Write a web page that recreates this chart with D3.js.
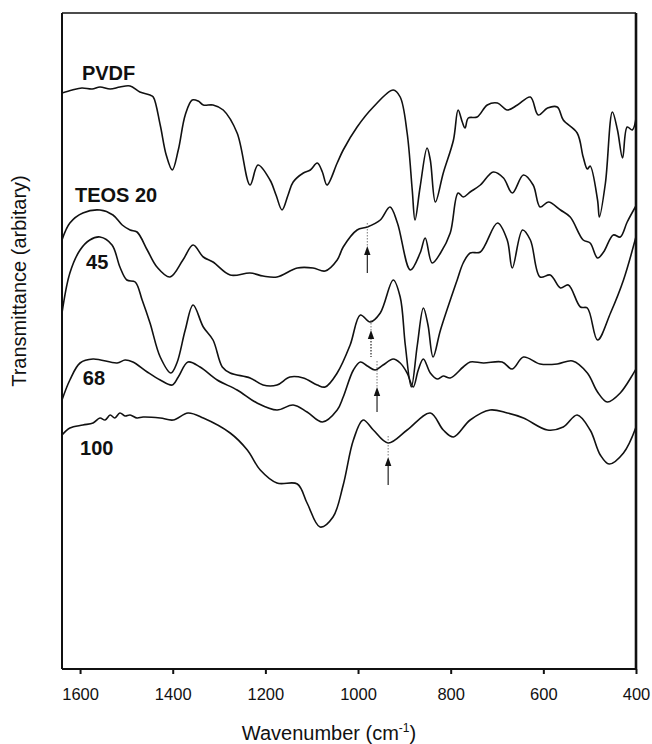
<!DOCTYPE html>
<html>
<head>
<meta charset="utf-8">
<script src="https://cdn.jsdelivr.net/npm/d3@7"></script>
<style>
  html, body { margin: 0; padding: 0; background: #fff; }
  svg { display: block; font-family: "Liberation Sans", Arial, sans-serif; }
</style>
</head>
<body>
<svg id="chart" width="652" height="744"></svg>
<script>
// ---------- DATA (wavenumber cm^-1, transmittance in arbitrary units) ----------
const xTicks = [1600, 1400, 1200, 1000, 800, 600, 400];

const pvdf = [
  [1639,57.6],[1617,57.9],[1596,58.1],[1574,58.0],[1557,58.2],[1535,58.0],[1514,58.2],[1492,58.3],
  [1471,57.7],[1449,57.4],[1442,57.2],[1427,54.4],[1414,51.4],[1401,49.9],[1388,51.9],[1373,55.4],
  [1358,56.9],[1345,56.8],[1334,56.4],[1313,56.4],[1291,55.9],[1261,53.6],[1233,48.4],[1216,50.4],
  [1190,48.9],[1177,47.4],[1164,45.9],[1151,47.4],[1140,48.7],[1118,49.6],[1103,49.9],[1088,50.6],
  [1077,49.7],[1067,48.4],[1045,50.6],[1032,51.9],[1002,54.2],[967,56.2],[924,57.9],[909,57.2],
  [894,53.6],[883,47.9],[877,44.9],[866,48.2],[851,52.1],[844,50.9],[833,46.7],[816,49.6],
  [794,52.9],[784,55.9],[775,54.7],[769,54.1],[762,55.1],[743,55.2],[721,56.4],[699,56.6],
  [678,55.9],[656,56.4],[628,57.2],[611,55.4],[591,56.1],[570,56.2],[557,54.9],[527,53.6],
  [514,51.2],[505,50.0],[499,50.3],[483,46.9],[479,45.2],[466,48.6],[451,55.7],[440,53.9],
  [429,51.1],[419,54.2],[408,53.9],[399,55.4]
];

const teos20 = [
  [1639,42.9],[1622,44.6],[1594,45.6],[1557,45.9],[1529,45.4],[1509,44.4],[1492,43.9],[1477,43.7],
  [1455,41.9],[1434,40.2],[1406,39.2],[1378,40.9],[1356,42.4],[1334,41.2],[1313,40.7],[1276,39.4],
  [1233,39.6],[1205,39.3],[1175,39.2],[1131,40.1],[1097,40.1],[1071,39.8],[1045,40.9],[1032,42.2],
  [1002,43.9],[980,44.2],[952,44.9],[931,46.2],[915,44.6],[887,39.9],[866,41.6],[855,43.1],
  [840,40.6],[822,41.6],[801,43.6],[784,47.6],[773,47.2],[758,47.7],[736,48.4],[708,49.7],
  [686,49.1],[667,47.6],[643,49.4],[622,48.4],[607,46.2],[589,46.7],[563,45.9],[542,45.2],
  [514,42.9],[499,42.6],[483,41.1],[470,41.7],[449,43.4],[434,43.2],[419,44.7],[399,46.4]
];

const teos45 = [
  [1639,35.6],[1622,39.6],[1600,41.9],[1579,42.9],[1557,43.2],[1531,42.4],[1514,40.2],[1499,38.9],
  [1481,38.7],[1466,36.9],[1449,34.6],[1427,31.2],[1404,29.6],[1391,30.6],[1373,33.9],[1356,36.4],
  [1334,34.2],[1313,32.9],[1293,30.2],[1276,29.6],[1233,29.1],[1205,28.4],[1175,28.4],[1147,29.2],
  [1118,29.1],[1088,28.4],[1071,28.2],[1045,29.6],[1017,32.4],[995,35.4],[974,34.7],[952,35.6],
  [924,38.9],[909,37.2],[898,32.4],[885,28.2],[872,32.4],[859,36.1],[849,34.4],[838,31.2],
  [822,33.9],[786,38.9],[773,40.6],[758,41.6],[736,41.7],[699,44.6],[678,42.9],[667,40.1],
  [645,43.9],[628,42.9],[607,39.2],[585,39.4],[563,38.1],[546,38.4],[520,36.2],[505,36.1],
  [483,32.9],[455,35.6],[427,38.9],[399,43.4]
];

const teos68 = [
  [1639,26.9],[1622,28.9],[1600,30.6],[1572,31.0],[1520,30.6],[1503,30.9],[1486,30.7],[1455,29.7],
  [1427,28.9],[1401,28.4],[1388,29.2],[1367,30.7],[1341,30.2],[1304,28.9],[1261,27.9],[1218,26.6],
  [1175,25.9],[1140,26.4],[1110,25.7],[1077,24.7],[1045,25.9],[1032,27.2],[1010,29.9],[995,30.7],
  [980,30.3],[963,29.9],[946,30.4],[924,31.0],[909,30.6],[894,29.6],[881,28.2],[870,29.9],
  [859,31.0],[844,29.6],[829,29.0],[816,29.3],[801,29.1],[773,30.2],[758,30.7],[729,30.6],
  [689,30.7],[667,30.0],[643,31.2],[607,30.5],[570,30.5],[537,30.8],[505,29.6],[483,27.7],
  [462,26.7],[434,27.6],[399,30.1]
];

const teos100 = [
  [1639,23.4],[1622,24.1],[1594,24.4],[1572,24.6],[1557,25.1],[1546,24.9],[1535,25.4],[1525,25.1],
  [1514,25.6],[1503,25.3],[1492,25.4],[1477,25.1],[1464,25.2],[1427,25.1],[1399,24.9],[1367,25.6],
  [1334,25.1],[1276,23.6],[1239,21.9],[1211,19.9],[1175,18.6],[1131,18.5],[1110,16.6],[1082,14.2],
  [1054,15.2],[1032,18.4],[1010,22.9],[989,24.9],[967,23.9],[935,22.6],[894,23.9],[844,25.6],
  [816,23.9],[794,23.2],[758,24.9],[715,25.9],[678,25.6],[643,25.1],[591,23.9],[557,24.2],
  [527,25.4],[499,23.9],[477,21.4],[458,20.5],[427,21.6],[399,24.3]
];

const seriesNames = ["PVDF", "TEOS 20", "45", "68", "100"];
// label anchor (wavenumber, transmittance)
const labelWn = [1596, 1611, 1587, 1594, 1600];
const labelT  = [58.9, 46.7, 40.0, 28.4, 21.4];

// arrows: wavenumber, top of guide line, arrow tip, bottom of shaft
const arrowWn     = [980, 972, 959, 935];
const arrowTopT   = [44.6, 34.9, 30.8, 23.3];
const arrowTipT   = [42.3, 33.9, 28.2, 21.2];
const arrowBotT   = [39.6, 31.2, 25.7, 18.4];

// ---------- CHART ----------
const svg = d3.select("#chart");
const mLeft = 62, mRight = 636, mTop = 13, mBottom = 669;

const x = d3.scaleLinear().domain([1639, 400]).range([mLeft, mRight]);
const y = d3.scaleLinear().domain([0, 65.6]).range([mBottom, mTop]);

const ink = "#111";

const line = d3.line()
  .x(d => x(d[0]))
  .y(d => y(d[1]))
  .curve(d3.curveCatmullRom.alpha(0.5));

svg.append("clipPath").attr("id", "clip")
  .append("rect").attr("x", mLeft).attr("y", mTop)
  .attr("width", mRight - mLeft).attr("height", mBottom - mTop);

const allSeries = [pvdf, teos20, teos45, teos68, teos100];
svg.append("g").attr("clip-path", "url(#clip)")
  .selectAll("path.spec").data(allSeries).join("path")
  .attr("class", "spec")
  .attr("d", line)
  .attr("fill", "none")
  .attr("stroke", ink)
  .attr("stroke-width", 1.6)
  .attr("stroke-linejoin", "round");

// arrows
const arrows = svg.append("g");
arrowWn.forEach((wn, i) => {
  const ax = x(wn);
  const tip = y(arrowTipT[i]);
  arrows.append("line")
    .attr("x1", ax).attr("x2", ax)
    .attr("y1", y(arrowTopT[i])).attr("y2", tip)
    .attr("stroke", "#555").attr("stroke-width", 0.8)
    .attr("stroke-dasharray", "1.5,1.5");
  arrows.append("line")
    .attr("x1", ax).attr("x2", ax)
    .attr("y1", tip + 8).attr("y2", y(arrowBotT[i]))
    .attr("stroke", ink).attr("stroke-width", 1.1)
    .attr("stroke-dasharray", i === 1 ? "1.5,1.5" : null);
  arrows.append("path")
    .attr("d", `M${ax},${tip} L${ax - 3.2},${tip + 9} L${ax + 3.2},${tip + 9} Z`)
    .attr("fill", ink);
});

// series labels
svg.append("g").selectAll("text").data(seriesNames).join("text")
  .attr("x", (d, i) => x(labelWn[i]))
  .attr("y", (d, i) => y(labelT[i]))
  .attr("font-size", 20)
  .attr("font-weight", "bold")
  .attr("fill", ink)
  .text(d => d);

// frame
svg.append("line").attr("x1", mLeft).attr("x2", mRight).attr("y1", mTop).attr("y2", mTop)
  .attr("stroke", ink).attr("stroke-width", 1.6);
svg.append("line").attr("x1", mLeft).attr("x2", mLeft).attr("y1", mTop).attr("y2", mBottom)
  .attr("stroke", ink).attr("stroke-width", 2);
svg.append("line").attr("x1", mRight).attr("x2", mRight).attr("y1", mTop).attr("y2", mBottom)
  .attr("stroke", ink).attr("stroke-width", 2.6);

// x axis
const xAxis = svg.append("g")
  .attr("transform", `translate(0,${mBottom})`)
  .call(d3.axisBottom(x).tickValues(xTicks).tickSize(5).tickPadding(14).tickFormat(d3.format("d")));
xAxis.select(".domain").attr("stroke", ink).attr("stroke-width", 2)
  .attr("d", `M${mLeft},0H${mRight}`);
xAxis.selectAll(".tick line").attr("stroke", ink).attr("stroke-width", 2);
xAxis.selectAll(".tick text").attr("font-size", 16.5).attr("fill", ink)
  .attr("font-family", "'Liberation Sans', Arial, sans-serif");

// axis titles
const xt = svg.append("text")
  .attr("x", 329).attr("y", 740)
  .attr("text-anchor", "middle")
  .attr("font-size", 20).attr("fill", ink);
xt.append("tspan").text("Wavenumber (cm");
xt.append("tspan").attr("font-size", 12).attr("dy", -8).text("-1");
xt.append("tspan").attr("dy", 8).text(")");

svg.append("text")
  .attr("transform", "translate(26,281) rotate(-90)")
  .attr("text-anchor", "middle")
  .attr("font-size", 20).attr("fill", ink)
  .text("Transmittance (arbitary)");
</script>
</body>
</html>
